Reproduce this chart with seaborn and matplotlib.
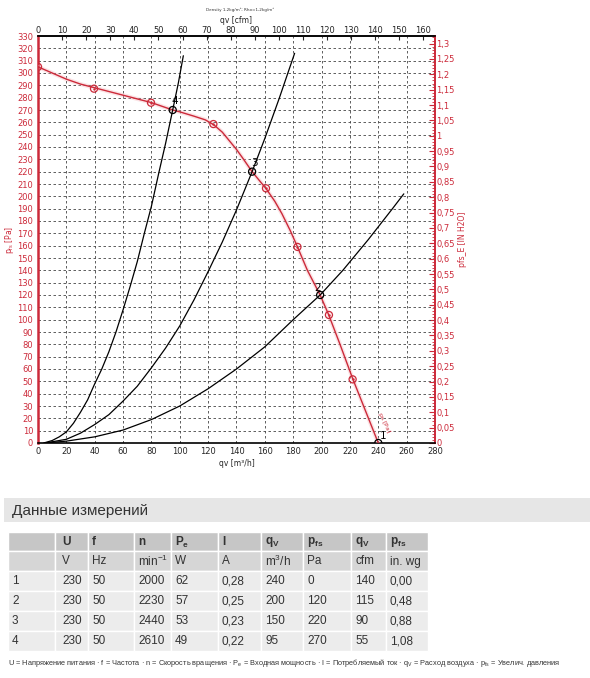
import numpy as np
import pandas as pd
import matplotlib
matplotlib.use("Agg")
import matplotlib.pyplot as plt
from matplotlib.patches import Rectangle
from matplotlib.ticker import FuncFormatter, MultipleLocator
import seaborn as sns

# ---------------- data ----------------
fan_q = [0, 10, 20, 30, 40, 50, 60, 70, 80, 90, 95, 100, 110, 118, 124, 130, 135, 140,
         145, 151, 156, 161, 167, 172, 178, 183, 190, 199, 205, 213, 222, 231, 240]
fan_p = [305, 300, 295, 291, 288, 285, 282, 279, 276, 272, 270, 268.5, 265, 262, 258,
         252, 245, 238, 230, 220, 213, 206, 196, 186, 172, 159, 140, 120, 104, 80, 52, 26, 0]

mark_q = [0, 39.5, 79.7, 123.7, 160.8, 183, 205.2, 221.9]
mark_p = [305, 287.3, 275.9, 258.6, 206.5, 159, 103.8, 51.6]

sysA_q = [4, 10, 15, 20, 25, 30, 35, 40, 45, 50, 55, 60, 65, 70, 75, 80, 85, 90, 95, 99, 102.5]
sysA_p = [0, 2, 5, 9, 16, 25, 35, 48, 60, 74, 90, 108, 127, 147, 170, 192, 218, 243, 270, 292, 314]
sysB_q = [5, 20, 30, 40, 50, 60, 70, 80, 90, 100, 110, 120, 130, 140, 151, 160, 170, 181]
sysB_p = [0, 3, 8, 15, 23, 34, 46, 61, 77, 95, 116, 139, 163, 189, 220, 247, 279, 316]
sysC_q = [5, 20, 40, 60, 80, 100, 120, 140, 160, 180, 199, 215, 233, 250, 258]
sysC_p = [0, 1.5, 5, 10.5, 19, 30, 44, 60, 78, 100, 120, 140, 165, 190, 202]

op_id = ["1", "2", "3", "4"]
op_q = [240, 199, 151, 95]
op_p = [0, 120, 220, 270]

x_ticks = list(range(0, 281, 20))
y_ticks = list(range(0, 331, 10))
cfm_ticks = list(range(0, 161, 10))
inwg_ticks = [round(v, 2) for v in np.arange(0, 1.301, 0.05)]

tbl_header = ["", "U", "f", "n", "$\\mathbf{P_e}$", "I", "$\\mathbf{q_V}$",
              "$\\mathbf{p_{fs}}$", "$\\mathbf{q_V}$", "$\\mathbf{p_{fs}}$"]
tbl_units = ["", "V", "Hz", "min$^{-1}$", "W", "A", "m$^{3}$/h", "Pa", "cfm", "in. wg"]
tbl_rows = [
    ["1", "230", "50", "2000", "62", "0,28", "240", "0", "140", "0,00"],
    ["2", "230", "50", "2230", "57", "0,25", "200", "120", "115", "0,48"],
    ["3", "230", "50", "2440", "53", "0,23", "150", "220", "90", "0,88"],
    ["4", "230", "50", "2610", "49", "0,22", "95", "270", "55", "1,08"],
]
table_title = "Данные измерений"
footnote = ("U = Напряжение питания · f = Частота · n = Скорость вращения · "
            "P$_e$ = Входная мощность · I = Потребляемый ток · "
            "q$_V$ = Расход воздуха · p$_{fs}$ = Увелич. давления")

# ---------------- style ----------------
sns.set_style("white")
TF = ["Liberation Sans", "DejaVu Sans"]
plt.rcParams["font.family"] = ["DejaVu Sans"]
plt.rcParams["mathtext.fontset"] = "custom"
plt.rcParams["mathtext.rm"] = "Liberation Sans"
plt.rcParams["mathtext.bf"] = "Liberation Sans:bold"
plt.rcParams["mathtext.it"] = "Liberation Sans"

RED = "#cc2a3a"
W, H = 590, 678
fig = plt.figure(figsize=(W / 100, H / 100), dpi=100)
fig.patch.set_facecolor("white")

ax = fig.add_axes([38 / W, (H - 443) / H, 397 / W, 407 / H])
ax.set_facecolor("white")

fan_df = pd.DataFrame({"q": fan_q, "p": fan_p})
sns.lineplot(data=fan_df, x="q", y="p", ax=ax, color="#f4b0b6", lw=3.0,
             alpha=0.35, estimator=None, sort=False, zorder=3)
sns.lineplot(data=fan_df, x="q", y="p", ax=ax, color=RED, lw=1.0,
             estimator=None, sort=False, zorder=4)

for qs, ps in [(sysA_q, sysA_p), (sysB_q, sysB_p), (sysC_q, sysC_p)]:
    df = pd.DataFrame({"q": qs, "p": ps})
    sns.lineplot(data=df, x="q", y="p", ax=ax, color="black", lw=0.9,
                 estimator=None, sort=False, zorder=5)

mk = pd.DataFrame({"q": mark_q, "p": mark_p})
sns.scatterplot(data=mk, x="q", y="p", ax=ax, marker="o", s=26,
                facecolor="none", edgecolor=RED, linewidth=0.9, zorder=6)
sns.scatterplot(data=mk, x="q", y="p", ax=ax, marker="o", s=3,
                color=RED, linewidth=0, zorder=6)

op = pd.DataFrame({"q": op_q, "p": op_p})
sns.scatterplot(data=op, x="q", y="p", ax=ax, marker="o", s=26,
                facecolor="none", edgecolor="black", linewidth=0.9, zorder=7)
offsets = {"1": (1, 3), "2": (-4, 3), "3": (-1, 4), "4": (-1, 4)}
for lab, q, p in zip(op_id, op_q, op_p):
    ax.annotate(lab, (q, p), xytext=offsets[lab], textcoords="offset points",
                fontsize=7.5, color="black", zorder=8)

ax.text(238, 6, "p$_{fs}$ [Pa]", color=RED, fontsize=4.5, rotation=-65,
        ha="left", va="bottom", zorder=8)

ax.set_xlim(0, 280)
ax.set_ylim(0, 330)
ax.set_xticks(x_ticks)
ax.set_yticks(y_ticks)
ax.xaxis.set_minor_locator(MultipleLocator(4))
ax.yaxis.set_minor_locator(MultipleLocator(2))
ax.grid(True, which="major", color="#444444", lw=0.6, linestyle=(0, (3, 3)))
ax.set_xlabel("qv [m³/h]", fontsize=5.5, labelpad=2)
ax.set_ylabel("p$_{fs}$ [Pa]", fontsize=5.5, color=RED, labelpad=1)

ax.tick_params(axis="x", which="major", labelsize=6, direction="in", length=4,
               color="black", pad=3, top=False)
ax.tick_params(axis="x", which="minor", direction="in", length=2, color="black", top=False)
ax.tick_params(axis="y", which="major", labelsize=6, direction="inout", length=5,
               color=RED, labelcolor=RED, pad=1)
ax.tick_params(axis="y", which="minor", direction="in", length=2.5, color=RED)

for s in ["top", "bottom"]:
    ax.spines[s].set_color("black")
    ax.spines[s].set_linewidth(1.2)
ax.spines["left"].set_color(RED)
ax.spines["left"].set_linewidth(1.8)
ax.spines["right"].set_color(RED)
ax.spines["right"].set_linewidth(1.2)

secx = ax.secondary_xaxis("top", functions=(lambda q: q / 1.699, lambda c: c * 1.699))
secx.set_xticks(cfm_ticks)
secx.tick_params(labelsize=6, direction="in", length=3, pad=1)
secx.set_xlabel("qv [cfm]", fontsize=5.5, labelpad=2)
secx.spines["top"].set_linewidth(1.2)

secy = ax.secondary_yaxis("right", functions=(lambda p: p / 249.1, lambda i: i * 249.1))
secy.set_yticks(inwg_ticks)
secy.yaxis.set_minor_locator(MultipleLocator(0.01))
secy.yaxis.set_major_formatter(FuncFormatter(lambda v, _: ("%g" % round(v, 2)).replace(".", ",")))
secy.tick_params(axis="y", which="major", labelsize=6, direction="in", length=4,
                 color=RED, labelcolor=RED, pad=1)
secy.tick_params(axis="y", which="minor", direction="in", length=2, color=RED)
secy.spines["right"].set_color(RED)
secy.spines["right"].set_linewidth(1.2)
secy.set_ylabel("pfs_E [IN H2O]", fontsize=5.5, color=RED, labelpad=2)

fig.text(240 / W, 1 - 10 / H, "Density 1,2kg/m³; Rho=1,2kg/m³", fontsize=3,
         ha="center", va="center", color="#333333")

# ---------------- table ----------------
tab = fig.add_axes([0, 0, 1, 1], zorder=-1)
tab.set_xlim(0, W)
tab.set_ylim(H, 0)
tab.axis("off")

tab.add_patch(Rectangle((4, 498), 586, 24, facecolor="#e6e6e6", edgecolor="none"))
tab.text(12, 510.5, table_title, fontsize=11, family=TF, color="#333333",
         va="center", ha="left")

col_left = [8, 55, 88, 134, 171, 218, 261, 303, 351, 386]
col_right = 428
row_top = [532, 551, 571, 591, 611, 631]
row_h = 20
row_colors = ["#c6c6c6", "#d6d6d6", "#ececec", "#ececec", "#ececec", "#ececec"]
all_rows = [tbl_header, tbl_units] + tbl_rows
for r, (cells, top) in enumerate(zip(all_rows, row_top)):
    h = 19 if r == 0 else row_h
    for c, txt in enumerate(cells):
        x0 = col_left[c]
        x1 = col_left[c + 1] if c + 1 < len(col_left) else col_right
        tab.add_patch(Rectangle((x0, top), x1 - x0, h, facecolor=row_colors[r],
                                edgecolor="white", lw=1.0))
        tx = x0 + 4
        if c == 1:
            tx = x0 + 7
        tab.text(tx, top + h / 2 + 0.5, txt, fontsize=8.5,
                 family=TF, color="#333333", va="center", ha="left",
                 fontweight="bold" if r == 0 else "normal")

tab.text(8, 663, footnote, fontsize=5.3, family=TF, color="#333333",
         va="center", ha="left")

fig.savefig("out.png", dpi=100, facecolor="white")
